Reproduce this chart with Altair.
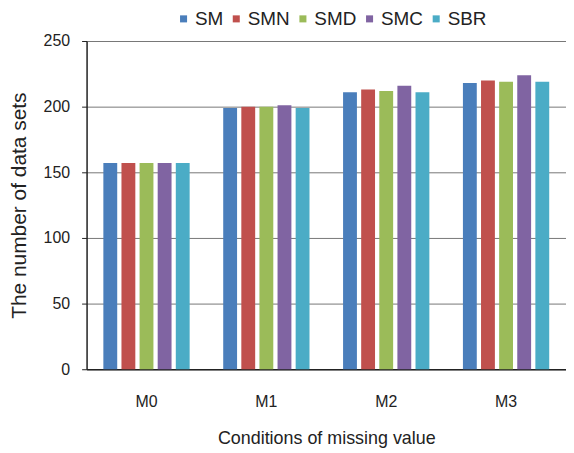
import altair as alt
import pandas as pd

conditions = ["M0", "M1", "M2", "M3"]
methods = ["SM", "SMN", "SMD", "SMC", "SBR"]
SM = [157, 199, 211, 218]
SMN = [157, 200, 213, 220]
SMD = [157, 200, 212, 219]
SMC = [157, 201, 216, 224]
SBR = [157, 199, 211, 219]
colors = ["#4a7ebb", "#c0504d", "#9bbb59", "#8064a2", "#4bacc6"]

series = {"SM": SM, "SMN": SMN, "SMD": SMD, "SMC": SMC, "SBR": SBR}
rows = []
for m in methods:
    for c, v in zip(conditions, series[m]):
        rows.append({"cond": c, "method": m, "value": v})
df = pd.DataFrame(rows)

font = "Liberation Sans"

chart = alt.Chart(df).mark_bar().encode(
    x=alt.X("cond:N", sort=conditions,
            scale=alt.Scale(paddingInner=0.28, paddingOuter=0.14),
            axis=alt.Axis(title="Conditions of missing value", labelAngle=0,
                          ticks=False, labelPadding=24, titlePadding=21,
                          labelFontSize=16, titleFontSize=18, labelFont=font,
                          titleFont=font, titleFontWeight="normal",
                          labelColor="#222", titleColor="#222",
                          domainColor="#222", domainWidth=1.5, grid=False)),
    xOffset=alt.XOffset("method:N", sort=methods,
                        scale=alt.Scale(paddingInner=0.235, paddingOuter=0)),
    y=alt.Y("value:Q", scale=alt.Scale(domain=[0, 250]),
            axis=alt.Axis(title="The number of data sets", values=[0, 50, 100, 150, 200, 250],
                          tickSize=5, labelPadding=12, titlePadding=14,
                          labelFontSize=16, titleFontSize=21, labelFont=font,
                          titleFont=font, titleFontWeight="normal",
                          labelColor="#222", titleColor="#222",
                          domainColor="#222", domainWidth=1.5, tickColor="#222",
                          gridColor="#777", gridWidth=1)),
    color=alt.Color("method:N", sort=methods,
                    scale=alt.Scale(domain=methods, range=colors),
                    legend=alt.Legend(title=None, orient="none", direction="horizontal",
                                      legendX=88, legendY=-32, symbolType="square",
                                      symbolSize=50, labelFontSize=19, labelFont=font,
                                      labelColor="#222", columnPadding=3,
                                      symbolStrokeWidth=0, labelOffset=2)),
).properties(
    width=482, height=330, padding={"left": 0, "top": 0, "right": 0, "bottom": 0}
).configure_view(stroke=None)

chart.save("out.html", embed_options={"renderer": "svg", "actions": False})
